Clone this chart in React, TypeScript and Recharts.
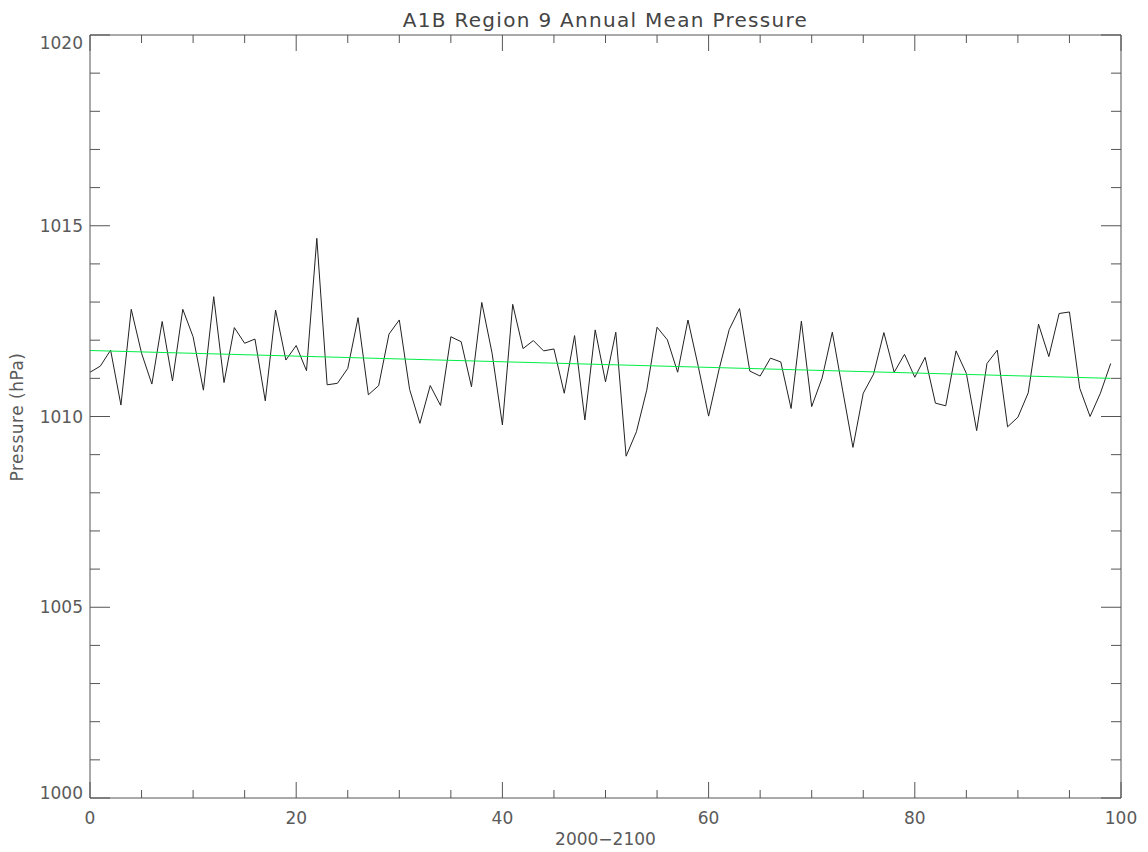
import { Line, LineChart, XAxis, YAxis } from "recharts";

const pressure = [
  1011.16, 1011.32, 1011.74, 1010.3, 1012.81, 1011.66, 1010.85, 1012.49, 1010.93, 1012.81,
  1012.09, 1010.69, 1013.14, 1010.89, 1012.33, 1011.92, 1012.03, 1010.41, 1012.79, 1011.48,
  1011.86, 1011.2, 1014.67, 1010.83, 1010.87, 1011.26, 1012.59, 1010.57, 1010.81, 1012.16,
  1012.53, 1010.71, 1009.82, 1010.81, 1010.29, 1012.09, 1011.96, 1010.78, 1012.99, 1011.66,
  1009.78, 1012.94, 1011.78, 1011.99, 1011.72, 1011.77, 1010.61, 1012.12, 1009.91, 1012.27,
  1010.91, 1012.21, 1008.96, 1009.6, 1010.69, 1012.34, 1012.01, 1011.16, 1012.53, 1011.31,
  1010.01, 1011.22, 1012.28, 1012.83, 1011.19, 1011.06, 1011.53, 1011.43, 1010.21, 1012.5,
  1010.26, 1011.0, 1012.21, 1010.69, 1009.19, 1010.61, 1011.11, 1012.2, 1011.16, 1011.63,
  1011.03, 1011.55, 1010.35, 1010.28, 1011.72, 1011.13, 1009.63, 1011.39, 1011.74, 1009.73,
  1009.98, 1010.62, 1012.42, 1011.57, 1012.7, 1012.74, 1010.74, 1010.0, 1010.61, 1011.39,
];

// linear trend, start and end points
const trendYears = [0, 99];
const trendValues = [1011.73, 1011.0];

const xTicks = [0, 5, 10, 15, 20, 25, 30, 35, 40, 45, 50, 55, 60, 65, 70, 75, 80, 85, 90, 95, 100];
const xLabels = [0, 20, 40, 60, 80, 100];
const yTicks = [
  1000, 1001, 1002, 1003, 1004, 1005, 1006, 1007, 1008, 1009, 1010,
  1011, 1012, 1013, 1014, 1015, 1016, 1017, 1018, 1019, 1020,
];
const yLabels = [1000, 1005, 1010, 1015, 1020];

const title = "A1B Region 9 Annual Mean Pressure";
const xTitle = "2000\u22122100";
const yTitle = "Pressure (hPa)";

const series = pressure.map((p, i) => ({ year: i, p }));
const trend = trendYears.map((year, i) => ({ year, p: trendValues[i] }));

const FONT = "DejaVu Sans";
const AXIS = "#555";
const TEXT = "#5a5a5a";

function BottomTick({ x, y, payload }: any) {
  const major = xLabels.includes(payload.value);
  return (
    <g>
      <line x1={x} y1={y} x2={x} y2={y - (major ? 16 : 8)} stroke={AXIS} />
      {major && (
        <text x={x} y={y + 26} textAnchor="middle" fontSize={17} fill={TEXT} fontFamily={FONT}>
          {payload.value}
        </text>
      )}
    </g>
  );
}

function TopTick({ x, y, payload }: any) {
  const major = xLabels.includes(payload.value);
  return <line x1={x} y1={y} x2={x} y2={y + (major ? 16 : 8)} stroke={AXIS} />;
}

function LeftTick({ x, y, payload }: any) {
  const major = yLabels.includes(payload.value);
  let dy = 6;
  if (payload.value === 1020) dy = 14;
  if (payload.value === 1000) dy = 1;
  return (
    <g>
      <line x1={x} y1={y} x2={x + (major ? 20 : 10)} y2={y} stroke={AXIS} />
      {major && (
        <text x={x - 7} y={y + dy} textAnchor="end" fontSize={17} fill={TEXT} fontFamily={FONT}>
          {payload.value}
        </text>
      )}
    </g>
  );
}

function RightTick({ x, y, payload }: any) {
  const major = yLabels.includes(payload.value);
  return <line x1={x} y1={y} x2={x - (major ? 20 : 10)} y2={y} stroke={AXIS} />;
}

export default function App() {
  return (
    <div style={{ position: "absolute", left: 0, top: 0, background: "#fff" }}>
      <LineChart width={1148} height={852} margin={{ top: 0, right: 0, bottom: 0, left: 0 }}>
        <XAxis
          xAxisId="bottom"
          dataKey="year"
          type="number"
          domain={[0, 100]}
          ticks={xTicks}
          interval={0}
          height={54}
          tickSize={0}
          tickMargin={0}
          tickLine={false}
          axisLine={{ stroke: AXIS }}
          tick={<BottomTick />}
          allowDataOverflow
          label={(p: any) => (
            <text
              x={p.viewBox.x + p.viewBox.width / 2}
              y={845}
              textAnchor="middle"
              fontSize={17}
              fill={TEXT}
              fontFamily={FONT}
            >
              {xTitle}
            </text>
          )}
        />
        <XAxis
          xAxisId="top"
          orientation="top"
          dataKey="year"
          type="number"
          domain={[0, 100]}
          ticks={xTicks}
          interval={0}
          height={35}
          tickSize={0}
          tickMargin={0}
          tickLine={false}
          axisLine={{ stroke: AXIS }}
          tick={<TopTick />}
          allowDataOverflow
          label={(p: any) => (
            <text
              x={p.viewBox.x + p.viewBox.width / 2}
              y={27}
              textAnchor="middle"
              fontSize={20}
              letterSpacing={1.3}
              fill="#444"
              fontFamily={FONT}
            >
              {title}
            </text>
          )}
        />
        <YAxis
          yAxisId="left"
          type="number"
          domain={[1000, 1020]}
          ticks={yTicks}
          interval={0}
          width={90}
          tickSize={0}
          tickMargin={0}
          tickLine={false}
          axisLine={{ stroke: AXIS }}
          tick={<LeftTick />}
          allowDataOverflow
          label={() => (
            <text
              x={23}
              y={417}
              transform="rotate(-90 23 417)"
              textAnchor="middle"
              fontSize={17}
              letterSpacing={0.5}
              fill={TEXT}
              fontFamily={FONT}
            >
              {yTitle}
            </text>
          )}
        />
        <YAxis
          yAxisId="right"
          orientation="right"
          type="number"
          domain={[1000, 1020]}
          ticks={yTicks}
          interval={0}
          width={27}
          tickSize={0}
          tickMargin={0}
          tickLine={false}
          axisLine={{ stroke: AXIS }}
          tick={<RightTick />}
          allowDataOverflow
        />
        <Line
          data={series}
          xAxisId="bottom"
          yAxisId="left"
          dataKey="p"
          type="linear"
          stroke="#222"
          strokeWidth={1}
          dot={false}
          isAnimationActive={false}
        />
        <Line
          data={trend}
          xAxisId="bottom"
          yAxisId="left"
          dataKey="p"
          type="linear"
          stroke="#00ee44"
          strokeWidth={1}
          dot={false}
          isAnimationActive={false}
        />
      </LineChart>
    </div>
  );
}
